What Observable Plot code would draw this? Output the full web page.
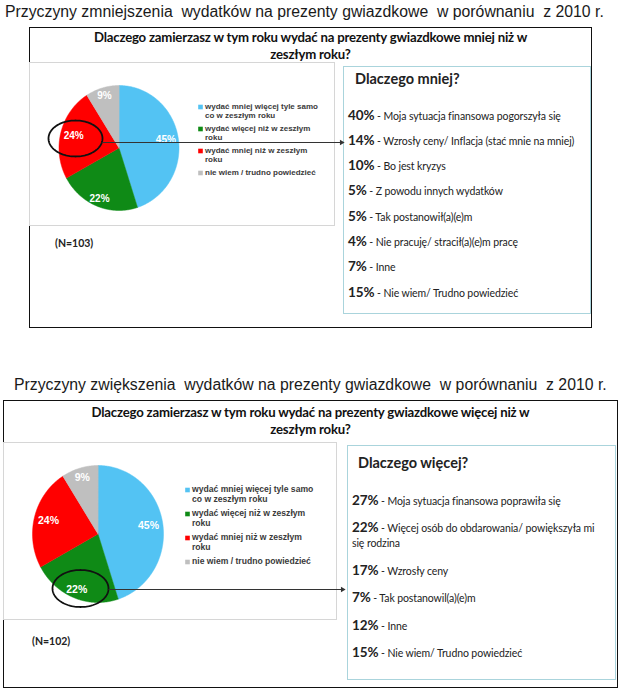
<!DOCTYPE html>
<html><head><meta charset="utf-8">
<script src="https://cdn.jsdelivr.net/npm/d3@7"></script>
<script src="https://cdn.jsdelivr.net/npm/@observablehq/plot@0.6"></script>
<style>
body{margin:0;background:#fff;}
#page{position:relative;width:620px;height:692px;overflow:hidden;font-family:"Liberation Sans",Arial,sans-serif;}
.abs{position:absolute;}
.title{font-size:15.8px;color:#1a1a1a;white-space:pre;line-height:18px;}
.box{border:1.5px solid #111;box-sizing:border-box;}
.q{font-family:Lato,sans-serif;font-weight:bold;font-size:13.2px;text-align:center;line-height:17px;color:#111;letter-spacing:-0.2px;}
.grey{border:1px solid #d6d6d6;box-sizing:border-box;}
.blue{border:1.5px solid #aad4dc;box-sizing:border-box;background:#fff;font-family:Lato,sans-serif;color:#222;}
.blue .h{font-weight:bold;font-size:14.5px;line-height:18px;white-space:nowrap;}
.blue .it{font-size:10.5px;line-height:15px;white-space:nowrap;letter-spacing:-0.1px;}
.blue .it b{font-size:13.5px;line-height:1;}
.n{font-family:Lato,sans-serif;font-weight:bold;font-size:10.5px;color:#222;line-height:14px;}
svg.pie{position:absolute;left:0;pointer-events:none;}
</style></head><body><div id="page"></div>
<script>
// ---- data ----
const categories = [
  "wydać mniej więcej tyle samo co w zeszłym roku",
  "wydać więcej niż w zeszłym roku",
  "wydać mniej niż w zeszłym roku",
  "nie wiem / trudno powiedzieć"
];
const legendLabels = [
  "wydać mniej więcej tyle samo\nco w zeszłym roku",
  "wydać więcej niż w zeszłym\nroku",
  "wydać mniej niż w zeszłym\nroku",
  "nie wiem / trudno powiedzieć"
];
const sliceColors = ["#53c3f3", "#0f8a16", "#ff0000", "#bfbfbf"];
const lessShares = [45, 22, 24, 9];
const moreShares = [45, 22, 24, 9];
const lessN = 103;
const moreN = 102;
const lessReasonPct = [40, 14, 10, 5, 5, 4, 7, 15];
const lessReasons = [
  "Moja sytuacja finansowa pogorszyła się",
  "Wzrosły ceny/ Inflacja (stać mnie na mniej)",
  "Bo jest kryzys",
  "Z powodu innych wydatków",
  "Tak postanowił(a)(e)m",
  "Nie pracuję/ stracił(a)(e)m pracę",
  "Inne",
  "Nie wiem/ Trudno powiedzieć"
];
const moreReasonPct = [27, 22, 17, 7, 12, 15];
const moreReasons = [
  "Moja sytuacja finansowa poprawiła się",
  "Więcej osób do obdarowania/ powiększyła mi<br>się rodzina",
  "Wzrosły ceny",
  "Tak postanowil(a)(e)m",
  "Inne",
  "Nie wiem/ Trudno powiedzieć"
];
const titles = [
  "Przyczyny zmniejszenia  wydatków na prezenty gwiazdkowe  w porównaniu  z 2010 r.",
  "Przyczyny zwiększenia  wydatków na prezenty gwiazdkowe  w porównaniu  z 2010 r."
];
const questions = [
  "Dlaczego zamierzasz w tym roku wydać na prezenty gwiazdkowe mniej niż w<br>zeszłym roku?",
  "Dlaczego zamierzasz w tym roku wydać na prezenty gwiazdkowe więcej niż w<br>zeszłym roku?"
];
const listHeads = ["Dlaczego mniej?", "Dlaczego więcej?"];

// ---- layout (page pixels) ----
const L = [
  {title:{x:5,y:3}, box:[29,27,592,328], q:28.5, grey:[29,62,335,226], n:{x:55,y:236},
   blue:[343,66,591,314], head:{x:11,pt:3}, items:{x:4,first:20.5,gap:10.3},
   cx:118.5, cy:147.5, rx:60, ry:62.5, labelR:[0.79,0.88,0.78,0.87], labelSize:10,
   legX:200, legY0:106.5, legStep:22, legSize:8, legLH:1.12,
   ell:{x:75,y:138,rx:27,ry:18}, arrow:{x1:102,x2:345,y:142}},
  {title:{x:14,y:376}, box:[3,400,618,688], q:404, grey:[3,442,337,620], n:{x:32,y:634},
   blue:[347,445,616,680], head:{x:10,pt:8}, items:{x:4,first:22,gap:12.4},
   cx:97.5, cy:533.5, rx:65.5, ry:68.5, labelR:[0.78,0.88,0.78,0.86], labelSize:10.5,
   legX:187, legY0:489.5, legStep:24, legSize:8.6, legLH:1.17,
   ell:{x:80,y:588,rx:28,ry:18.5}, arrow:{x1:108,x2:346,y:589}}
];

const page = document.getElementById("page");
function div(cls, r, html){
  const d = document.createElement("div");
  d.className = "abs " + cls;
  d.style.left = r[0]+"px"; d.style.top = r[1]+"px";
  if (r.length > 2){ d.style.width = (r[2]-r[0])+"px"; d.style.height = (r[3]-r[1])+"px"; }
  if (html != null) d.innerHTML = html;
  page.appendChild(d);
  return d;
}

function panel(k, shares, N, pcts, reasons){
  const P = L[k];
  div("title", [P.title.x, P.title.y]).textContent = titles[k];
  div("box", P.box);
  div("q", [P.box[0], P.q, P.box[2], P.q+36], questions[k]);
  div("grey", P.grey);
  div("n", [P.n.x, P.n.y]).textContent = `(N=${N})`;
  const b = div("blue", P.blue);
  const h = document.createElement("div");
  h.className = "h"; h.textContent = listHeads[k];
  h.style.margin = `${P.head.pt}px 0 0 ${P.head.x}px`;
  b.appendChild(h);
  pcts.forEach((p,i)=>{
    const it = document.createElement("div");
    it.className = "it";
    it.style.marginLeft = P.items.x + "px";
    it.style.marginTop = (i===0 ? P.items.first : P.items.gap) + "px";
    it.innerHTML = `<b>${p}%</b> - ${reasons[i]}`;
    b.appendChild(it);
  });

  // ---- pie via Plot ----
  const top = P.box[1], H = P.box[3]-P.box[1], W = 360;
  const ux = px => (px - P.cx)/P.rx, uy = py => (py - P.cy)/P.ry;
  const arcs = d3.pie().sort(null)(shares);
  const slicePts = [];
  arcs.forEach((a,i)=>{
    const n = Math.ceil((a.endAngle-a.startAngle)/0.01);
    slicePts.push({cat:categories[i], x:0, y:0});
    for (let j=0;j<=n;j++){
      const t = a.startAngle + (a.endAngle-a.startAngle)*j/n;
      slicePts.push({cat:categories[i], x:Math.sin(t), y:-Math.cos(t)});
    }
  });
  const labels = arcs.map((a,i)=>{
    const m = (a.startAngle+a.endAngle)/2, r = P.labelR[i];
    return {x:r*Math.sin(m), y:-r*Math.cos(m), text:shares[i]+"%"};
  });
  const legend = categories.map((c,i)=>({
    cat:c, label:legendLabels[i],
    x:ux(P.legX), tx:ux(P.legX+4.5), y:uy(P.legY0 + i*P.legStep)
  }));
  const ellPts = d3.range(0, 361, 3).map(d=>{
    const t = d*Math.PI/180;
    return {x:ux(P.ell.x + P.ell.rx*Math.cos(t)), y:uy(P.ell.y + P.ell.ry*Math.sin(t))};
  });
  const arrow = [{x1:ux(P.arrow.x1), x2:ux(P.arrow.x2-4), y:uy(P.arrow.y)}];

  const svg = Plot.plot({
    width: W, height: H, margin: 0,
    x: {domain:[-1,1], range:[P.cx-P.rx, P.cx+P.rx]},
    y: {domain:[-1,1], range:[P.cy-top-P.ry, P.cy-top+P.ry]},
    color: {domain: categories, range: sliceColors},
    axis: null,
    style: {background:"none", overflow:"visible"},
    marks: [
      Plot.line(slicePts, {x:"x", y:"y", z:"cat", fill:"cat", stroke:"cat", strokeWidth:0.5, curve:"linear-closed"}),
      Plot.text(labels, {x:"x", y:"y", text:"text", fill:"white", fontWeight:"bold", fontSize:P.labelSize, fontFamily:"Liberation Sans, Arial, sans-serif"}),
      Plot.dot(legend, {x:"x", y:"y", fill:"cat", symbol:"square", r:2.6, stroke:null}),
      Plot.text(legend, {x:"tx", y:"y", text:"label", textAnchor:"start", lineAnchor:"top", dy:-P.legSize*0.6, lineHeight:P.legLH, fontSize:P.legSize, fontWeight:"bold", fill:"#3a3a3a", fontFamily:"Liberation Sans, Arial, sans-serif"}),
      Plot.line(ellPts, {x:"x", y:"y", stroke:"#111", strokeWidth:1.8, curve:"linear-closed"}),
      Plot.link(arrow, {x1:"x1", x2:"x2", y1:"y", y2:"y", stroke:"#333", strokeWidth:1}),
      Plot.dot(arrow, {x:"x2", y:"y", symbol:"triangle2", rotate:90, r:2.6, fill:"#333", stroke:null})
    ]
  });
  svg.classList.add("pie");
  svg.style.top = top + "px";
  page.appendChild(svg);
}

panel(0, lessShares, lessN, lessReasonPct, lessReasons);
panel(1, moreShares, moreN, moreReasonPct, moreReasons);
</script></body></html>
